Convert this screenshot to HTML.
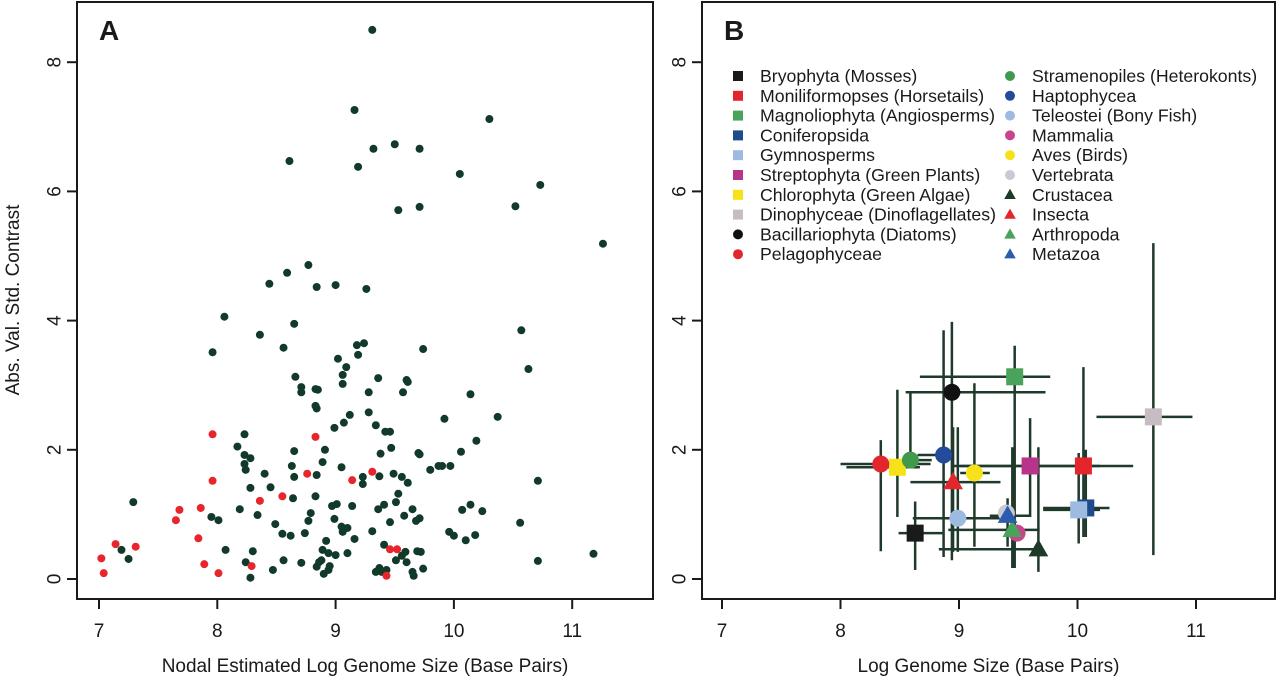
<!DOCTYPE html>
<html><head><meta charset="utf-8"><style>
body{margin:0;background:#fff;}
svg text{font-family:"Liberation Sans",Arial,sans-serif;fill:#1a1a1a;}
</style></head><body>
<svg id="c" width="1280" height="683" viewBox="0 0 1280 683" xmlns="http://www.w3.org/2000/svg"></svg>
<script>
// Panel A data
const darkX=[7.19,7.25,7.29,7.95,8.01,8.71,8.83,9.06,9.28,9.57,9.61,8.84,9.12,9.07,8.99,9.28,9.34,9.42,9.46,8.23,8.17,8.23,8.28,8.23,8.24,8.65,8.91,9.47,9.38,9.70,8.89,9.05,8.63,8.40,8.65,8.84,9.23,9.23,9.37,9.49,9.56,9.61,8.28,8.45,8.64,8.83,9.53,9.51,8.97,9.01,9.14,9.36,9.41,9.65,8.19,8.34,8.79,8.77,8.99,8.49,9.58,9.68,9.46,9.05,9.10,9.06,8.55,8.62,8.74,9.16,9.31,8.92,8.07,8.30,8.89,8.94,9.00,9.10,9.41,9.59,9.56,9.60,9.51,9.69,8.56,8.71,8.24,8.88,8.86,8.84,8.95,8.94,8.90,8.47,8.28,9.37,9.34,9.39,9.43,9.65,9.66,10.14,9.92,10.37,10.19,10.06,9.71,9.80,9.87,9.90,9.97,10.71,10.07,10.14,10.24,9.71,10.56,9.96,10.00,10.10,10.18,11.18,10.71,9.72,9.74,9.31,9.16,10.30,8.61,9.19,9.32,9.50,9.71,10.05,10.73,9.53,9.71,10.52,11.26,8.06,8.44,8.59,8.77,8.84,9.00,9.26,7.96,8.36,8.56,8.65,9.18,9.24,9.02,9.09,9.06,9.19,9.74,10.57,10.63,8.66,8.71,8.85,8.83,9.60,9.36];
const darkY=[0.45,0.31,1.19,0.96,0.91,2.89,2.94,3.02,2.89,2.89,3.05,2.64,2.54,2.42,2.34,2.58,2.38,2.28,2.28,2.24,2.05,1.92,1.87,1.78,1.69,1.98,2.00,2.03,1.94,1.95,1.81,1.73,1.75,1.63,1.58,1.61,1.58,1.47,1.59,1.63,1.58,1.49,1.41,1.42,1.25,1.28,1.32,1.19,1.13,1.16,1.13,1.08,1.15,1.08,1.08,0.99,1.02,0.90,0.93,0.85,0.98,0.90,0.88,0.81,0.79,0.73,0.70,0.67,0.71,0.62,0.74,0.59,0.45,0.43,0.45,0.40,0.37,0.40,0.53,0.42,0.36,0.26,0.29,0.43,0.29,0.25,0.26,0.29,0.26,0.19,0.20,0.14,0.08,0.14,0.02,0.17,0.11,0.11,0.14,0.11,0.05,2.86,2.48,2.51,2.14,1.97,1.93,1.69,1.75,1.75,1.75,1.52,1.07,1.15,1.05,0.94,0.87,0.73,0.67,0.60,0.68,0.39,0.28,0.42,0.16,8.50,7.26,7.12,6.47,6.38,6.66,6.73,6.66,6.27,6.10,5.71,5.76,5.77,5.19,4.06,4.57,4.74,4.86,4.52,4.55,4.49,3.51,3.78,3.58,3.95,3.62,3.65,3.41,3.28,3.16,3.47,3.56,3.85,3.25,3.13,2.97,2.93,2.68,3.08,3.11];
const redX=[7.96,8.83,7.96,8.76,9.31,9.14,8.36,8.55,7.86,7.68,7.84,9.46,9.52,7.89,8.01,8.29,9.43,7.02,7.04,7.14,7.31,7.65];
const redY=[2.24,2.20,1.52,1.63,1.66,1.53,1.21,1.28,1.10,1.07,0.63,0.46,0.46,0.23,0.09,0.20,0.05,0.32,0.09,0.54,0.50,0.91];
// Panel B data
const taxa=["Bryophyta (Mosses)","Moniliformopses (Horsetails)","Magnoliophyta (Angiosperms)","Coniferopsida","Gymnosperms","Streptophyta (Green Plants)","Chlorophyta (Green Algae)","Dinophyceae (Dinoflagellates)","Bacillariophyta (Diatoms)","Pelagophyceae","Stramenopiles (Heterokonts)","Haptophycea","Teleostei (Bony Fish)","Mammalia","Aves (Birds)","Vertebrata","Crustacea","Insecta","Arthropoda","Metazoa"];
const shapes=["s","s","s","s","s","s","s","s","c","c","c","c","c","c","c","c","t","t","t","t"];
const colors=["#1a1a1a","#e3262b","#4aa35a","#1f4a8c","#9dbbe0","#b8348a","#f7e21a","#c8bcc4","#111111","#e3262b","#3f9a4e","#244a9c","#9dbbe0","#c8458e","#f7e21a","#c9cad6","#1d3a28","#e3262b","#4aa35a","#2b5cae"];
const bX=[8.63,10.05,9.47,10.07,10.01,9.60,8.48,10.64,8.94,8.34,8.59,8.87,8.99,9.49,9.13,9.40,9.67,8.95,9.45,9.41];
const bY=[0.71,1.75,3.13,1.10,1.07,1.75,1.73,2.51,2.89,1.78,1.84,1.92,0.94,0.71,1.64,1.02,0.46,1.50,0.76,0.98];
const xLo=[8.49,8.95,8.67,9.71,9.71,9.01,8.05,10.16,8.55,8.00,8.59,8.65,8.61,9.39,9.01,9.35,8.83,8.59,8.91,9.26];
const xHi=[8.86,10.47,9.77,10.27,10.19,10.19,8.67,10.97,9.73,8.76,8.77,8.95,9.47,9.56,9.26,9.43,9.66,9.35,9.68,9.60];
const yLo=[0.14,0.65,0.17,0.65,0.55,0.96,0.96,0.37,0.29,0.43,1.81,0.34,0.42,0.60,0.50,0.90,0.11,0.42,0.17,0.50];
const yHi=[1.20,3.28,3.61,2.00,1.95,2.49,2.93,5.20,3.98,2.15,2.91,3.85,2.35,0.84,3.03,1.15,2.04,2.35,2.04,1.25];
const xTicks=[7,8,9,10,11];
const yTicks=[0,2,4,6,8];

const NS="http://www.w3.org/2000/svg";
const svg=document.getElementById('c');
function mk(tag,attrs,parent){const e=document.createElementNS(NS,tag);for(const k in attrs)e.setAttribute(k,attrs[k]);(parent||svg).appendChild(e);return e;}
const yS=v=>579-v*64.6;
const xA=v=>99+(v-7)*118.3;
const xB=v=>722+(v-7)*118.5;

function panel(name,left,right,xs,letter,xtitle){
  const g=mk('g',{});
  
  
  const fr=mk('rect',{x:left,y:2,width:right-left,height:597,fill:'none',stroke:'#1a1a1a','stroke-width':2},g);
  
  
  xTicks.forEach(t=>{
    const l=mk('line',{x1:xs(t),x2:xs(t),y1:599,y2:609,stroke:'#1a1a1a','stroke-width':2},g);
    
    
    const tx=mk('text',{x:xs(t),y:637,'font-size':19,'text-anchor':'middle'},g);
    tx.textContent=t;
    
    
  });
  yTicks.forEach(t=>{
    const l=mk('line',{x1:left-10,x2:left,y1:yS(t),y2:yS(t),stroke:'#1a1a1a','stroke-width':2},g);
    
    
    const tx=mk('text',{x:left-22,y:yS(t),'font-size':19,'text-anchor':'middle',transform:`rotate(-90 ${left-22} ${yS(t)})`,'dominant-baseline':'central'},g);
    tx.textContent=t;
    
    
  });
  const lt=mk('text',{x:left+22,y:40,'font-size':28,'font-weight':'bold'},g);
  lt.textContent=letter;
  
  
  const xt=mk('text',{x:(left+right)/2,y:672,'font-size':19,'text-anchor':'middle'},g);
  xt.textContent=xtitle;
  
  
  return g;
}
const gA=panel('panel-a',77,653,xA,'A','Nodal Estimated Log Genome Size (Base Pairs)');
const yt=mk('text',{x:19,y:300,'font-size':19,'text-anchor':'middle',transform:'rotate(-90 19 300)'},gA);
yt.textContent='Abs. Val. Std. Contrast';


darkX.forEach((x,i)=>{
  const c=mk('circle',{cx:xA(x),cy:yS(darkY[i]),r:4,fill:'#123a2b'},gA);
  
  
});
redX.forEach((x,i)=>{
  const c=mk('circle',{cx:xA(x),cy:yS(redY[i]),r:4,fill:'#e8242c'},gA);
  
  
});

const gB=panel('panel-b',702,1275,xB,'B','Log Genome Size (Base Pairs)');
taxa.forEach((t,i)=>{
  const h=mk('line',{x1:xB(xLo[i]),x2:xB(xHi[i]),y1:yS(bY[i]),y2:yS(bY[i]),stroke:'#1f3a2a','stroke-width':2.5},gB);
  
  
  const v=mk('line',{x1:xB(bX[i]),x2:xB(bX[i]),y1:yS(yLo[i]),y2:yS(yHi[i]),stroke:'#1f3a2a','stroke-width':2.5},gB);
  
  
});
function marker(shape,cx,cy,s,col,parent){
  if(shape==='s')return mk('rect',{x:cx-s/2,y:cy-s/2,width:s,height:s,fill:col},parent);
  if(shape==='c')return mk('circle',{cx:cx,cy:cy,r:s/2,fill:col},parent);
  return mk('polygon',{points:`${cx},${cy-s*0.6} ${cx-s*0.58},${cy+s*0.42} ${cx+s*0.58},${cy+s*0.42}`,fill:col},parent);
}
taxa.forEach((t,i)=>{
  const m=marker(shapes[i],xB(bX[i]),yS(bY[i]),17,colors[i],gB);
  
  
});
// legend
taxa.forEach((t,i)=>{
  const col=i<10?0:1, row=i<10?i:i-10;
  const mx=col?1010:738, ty=76+row*19.8;
  const g=mk('g',{},gB);
  
  
  marker(shapes[i],mx,ty,10,colors[i],g);
  const tx=mk('text',{x:mx+22,y:ty+6,'font-size':17.7},g);
  tx.textContent=t;
});
</script>
</body></html>
